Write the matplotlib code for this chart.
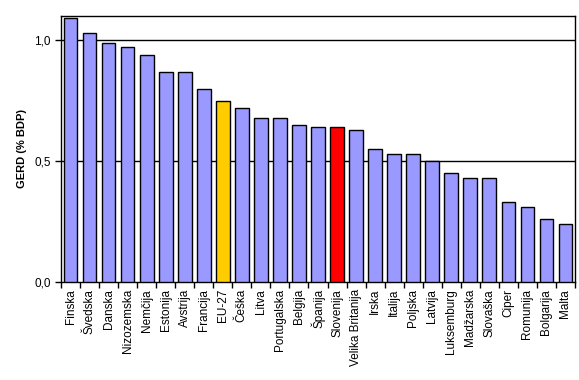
import matplotlib
matplotlib.use("Agg")
import matplotlib.pyplot as plt
import numpy as np
from matplotlib.ticker import FixedLocator, FuncFormatter

plt.rcParams['font.family'] = ['Liberation Sans', 'DejaVu Sans']

countries = ["Finska", "Švedska", "Danska", "Nizozemska", "Nemčija", "Estonija", "Avstrija",
             "Francija", "EU-27", "Češka", "Litva", "Portugalska", "Belgija", "Španija",
             "Slovenija", "Velika Britanija", "Irska", "Italija", "Poljska", "Latvija",
             "Luksemburg", "Madžarska", "Slovaška", "Ciper", "Romunija", "Bolgarija", "Malta"]
gerd = [1.09, 1.03, 0.99, 0.97, 0.94, 0.87, 0.87, 0.80, 0.75, 0.72, 0.68, 0.68, 0.65, 0.64,
        0.64, 0.63, 0.55, 0.53, 0.53, 0.50, 0.45, 0.43, 0.43, 0.33, 0.31, 0.26, 0.24]
highlight = {"EU-27": "#FFCC00", "Slovenija": "#FF0000"}
base_color = "#9999FF"
yticks = [0.0, 0.5, 1.0]

fig = plt.figure(figsize=(5.79, 3.80), dpi=100)
ax = fig.add_axes([61/579, 98/380, 514/579, 266/380])

x = np.arange(len(countries))
colors = [highlight.get(c, base_color) for c in countries]
ax.bar(x, gerd, width=0.72, color=colors, edgecolor="black", linewidth=1.0, zorder=3)

ax.set_xlim(-0.5, len(countries) - 0.5)
ax.set_ylim(0, 1.1)
ax.set_yticks(yticks)
ax.yaxis.set_major_formatter(FuncFormatter(lambda v, p: f"{v:.1f}".replace(".", ",")))
for yv in yticks[1:]:
    ax.axhline(yv, color="black", linewidth=1.0, zorder=1)

ax.set_xticks(x)
ax.set_xticklabels(countries, rotation=90, fontsize=8.5)
ax.tick_params(axis="x", which="major", length=0, pad=5)
ax.xaxis.set_minor_locator(FixedLocator(np.arange(-0.5, len(countries), 1.0)))
ax.tick_params(axis="x", which="minor", length=4, width=1, direction="out")
ax.tick_params(axis="y", length=4, width=1, direction="out", labelsize=8.5)

ax.set_ylabel("GERD (% BDP)", fontsize=8, fontweight="bold", labelpad=5)
for s in ax.spines.values():
    s.set_linewidth(1.0)
    s.set_color("black")

fig.savefig("out.png", dpi=100)
